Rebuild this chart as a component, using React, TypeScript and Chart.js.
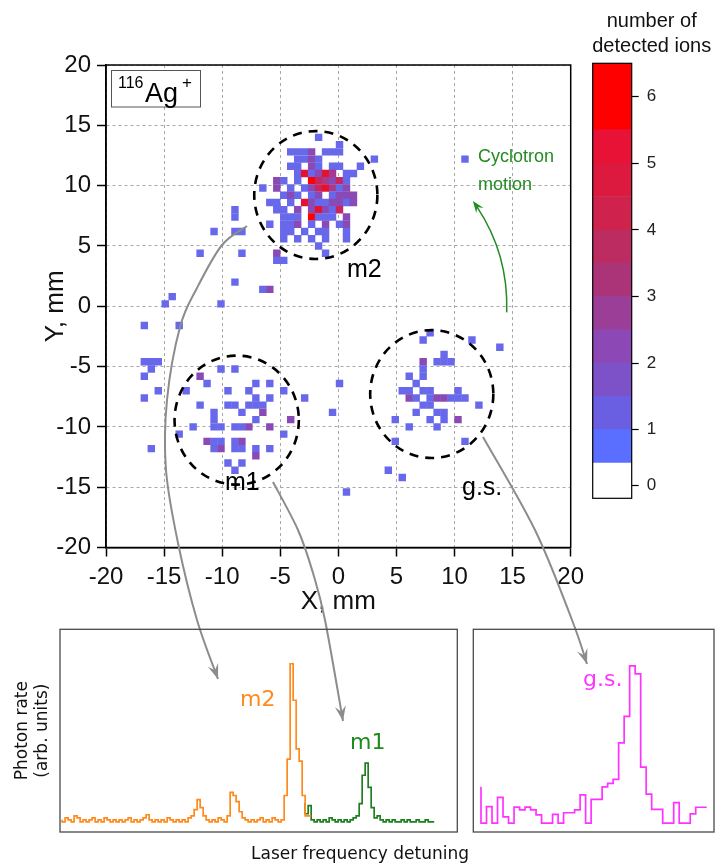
import React, { useEffect, useRef } from 'react';
import { Chart, registerables } from 'chart.js';

Chart.register(...registerables);

const SANS = '"Liberation Sans", Arial, Helvetica, sans-serif';
const VSANS = '"DejaVu Sans", Verdana, sans-serif';

type Cell = [number, number, number];

// ---- heat-map cells: [X mm, Y mm, number of detected ions] ----
const m2Cells: Cell[] = [
  [-1.7, 14.0, 1],
  [0.1, 13.4, 1],
  [-4.1, 12.8, 1], [-3.5, 12.8, 1], [-2.9, 12.8, 1], [-2.3, 12.8, 2], [-1.1, 12.8, 1], [-0.5, 12.8, 1], [0.1, 12.8, 1],
  [-3.5, 12.2, 1], [-2.9, 12.2, 1], [-2.3, 12.2, 2], [-1.7, 12.2, 1], [3.1, 12.2, 1],
  [-4.1, 11.6, 1], [-3.5, 11.6, 1], [-2.3, 11.6, 2], [-1.7, 11.6, 1], [-0.5, 11.6, 1], [0.1, 11.6, 1], [1.9, 11.6, 1],
  [-3.5, 11.0, 1], [-2.9, 11.0, 5], [-2.3, 11.0, 1], [-1.7, 11.0, 2], [-1.1, 11.0, 5], [-0.5, 11.0, 3], [0.7, 11.0, 1], [1.3, 11.0, 1],
  [-5.3, 10.4, 2], [-4.7, 10.4, 1], [-3.5, 10.4, 1], [-2.3, 10.4, 6], [-1.7, 10.4, 4], [-1.1, 10.4, 3], [-0.5, 10.4, 2], [0.1, 10.4, 4], [0.7, 10.4, 1],
  [-6.5, 9.8, 1], [-5.3, 9.8, 2], [-4.1, 9.8, 1], [-2.9, 9.8, 1], [-2.3, 9.8, 2], [-1.7, 9.8, 4], [-1.1, 9.8, 5], [-0.5, 9.8, 3], [0.1, 9.8, 1], [0.7, 9.8, 2],
  [-4.7, 9.2, 1], [-4.1, 9.2, 2], [-3.5, 9.2, 1], [-2.3, 9.2, 1], [-1.7, 9.2, 2], [-0.5, 9.2, 1], [0.1, 9.2, 2], [0.7, 9.2, 2], [1.3, 9.2, 2],
  [-5.9, 8.6, 1], [-5.3, 8.6, 1], [-4.1, 8.6, 1], [-2.9, 8.6, 5], [-2.3, 8.6, 2], [-1.7, 8.6, 1], [-1.1, 8.6, 1], [-0.5, 8.6, 2], [0.1, 8.6, 2], [0.7, 8.6, 1], [1.3, 8.6, 2],
  [-5.3, 8.0, 1], [-4.7, 8.0, 1], [-3.5, 8.0, 2], [-2.3, 8.0, 2], [-1.7, 8.0, 5], [-1.1, 8.0, 2], [-0.5, 8.0, 1], [0.1, 8.0, 4],
  [-4.7, 7.4, 1], [-4.1, 7.4, 1], [-3.5, 7.4, 1], [-2.3, 7.4, 6], [-1.7, 7.4, 1], [-1.1, 7.4, 1], [-0.5, 7.4, 1], [0.7, 7.4, 2],
  [-5.9, 6.8, 1], [-4.7, 6.8, 1], [-4.1, 6.8, 1], [-3.5, 6.8, 2], [-2.3, 6.8, 1], [-1.1, 6.8, 2], [0.1, 6.8, 1], [0.7, 6.8, 2],
  [-4.7, 6.2, 1], [-4.1, 6.2, 1], [-2.9, 6.2, 1], [-1.7, 6.2, 1], [-1.1, 6.2, 1], [0.7, 6.2, 1],
  [-4.7, 5.6, 1], [-3.5, 5.6, 1], [-2.3, 5.6, 1], [-1.1, 5.6, 1], [0.7, 5.6, 1],
  [-1.7, 5.0, 1],
  [-1.1, 4.4, 1], [-5.3, 4.4, 2],
  [-5.3, 3.8, 1], [-4.7, 3.8, 1],
];

const m1Cells: Cell[] = [
  [-11.9, -5.8, 2], [-11.9, -8.2, 1], [-11.3, -6.4, 1], [-11.3, -11.2, 2], [-10.7, -11.2, 1], [-10.7, -11.8, 1],
  [-10.1, -11.8, 2], [-10.1, -11.2, 1], [-10.7, -8.8, 1], [-10.7, -9.4, 1], [-10.7, -10.0, 1], [-10.1, -10.0, 1],
  [-10.1, -5.2, 1], [-8.9, -5.2, 1], [-9.5, -7.0, 1], [-9.5, -8.2, 1], [-8.9, -8.2, 1], [-8.3, -8.8, 1],
  [-8.9, -10.0, 1], [-8.3, -10.0, 1], [-7.7, -10.0, 2], [-8.9, -11.2, 1], [-8.3, -11.2, 2], [-8.9, -11.8, 1],
  [-8.3, -11.8, 1], [-7.7, -7.0, 1], [-7.7, -8.2, 1], [-7.1, -8.2, 1], [-6.5, -8.2, 1], [-7.1, -7.6, 1],
  [-7.1, -6.4, 1], [-7.1, -9.4, 1], [-7.1, -11.8, 1], [-7.1, -12.4, 2], [-6.5, -8.8, 2], [-5.9, -6.4, 1],
  [-5.9, -7.6, 1], [-5.9, -10.0, 2], [-5.9, -11.8, 1], [-4.7, -7.0, 1], [-4.7, -10.6, 1], [-4.1, -9.4, 2],
  [-9.5, -13.0, 1], [-8.3, -13.0, 1], [-8.9, -13.6, 1], [-13.7, -10.6, 1], [-13.1, -7.0, 1], [-12.5, -10.0, 1],
];

const gsCells: Cell[] = [
  [7.9, -2.2, 1], [7.3, -2.8, 1], [11.5, -2.8, 1], [13.9, -3.4, 1],
  [9.1, -4.0, 1], [8.5, -4.6, 1], [9.1, -4.6, 1], [9.7, -4.6, 1], [7.3, -4.6, 2],
  [7.3, -5.2, 1], [7.3, -5.8, 1], [6.1, -5.8, 1], [6.7, -6.4, 1],
  [5.5, -7.0, 1], [6.1, -7.0, 1], [7.3, -7.0, 1], [7.9, -7.0, 1], [10.3, -7.0, 1],
  [6.1, -7.6, 2], [6.7, -7.6, 1], [7.9, -7.6, 1], [8.5, -7.6, 2], [9.1, -7.6, 2], [9.7, -7.6, 1], [10.3, -7.6, 1], [10.9, -7.6, 1],
  [7.3, -8.2, 1], [7.9, -8.2, 1], [12.1, -8.2, 1],
  [6.7, -8.8, 1], [8.5, -8.8, 1], [9.1, -8.8, 1],
  [4.9, -9.4, 1], [7.9, -9.4, 1], [9.1, -9.4, 1], [10.3, -9.4, 2],
  [6.1, -10.0, 1], [8.5, -10.0, 1],
  [4.9, -11.2, 1], [10.9, -11.2, 1],
  [4.3, -13.6, 1], [5.5, -14.2, 1],
];

const strayCells: Cell[] = [
  [-8.9, 8.0, 1], [-8.9, 7.4, 1], [-10.7, 6.2, 1], [-8.9, 6.2, 1], [-8.3, 6.2, 1], [-11.9, 4.4, 1], [-8.3, 4.4, 1],
  [-8.9, 2.0, 1], [-6.5, 1.4, 1], [-5.9, 1.4, 2], [-14.3, 0.8, 1], [-14.9, 0.2, 1], [-10.1, 0.2, 1],
  [-16.7, -1.6, 1], [-13.7, -1.6, 1], [-16.7, -4.6, 1], [-16.1, -4.6, 1], [-15.5, -4.6, 1], [-16.1, -5.2, 1],
  [-16.7, -5.8, 1], [-15.5, -7.0, 1], [-16.7, -7.6, 1], [-16.1, -11.8, 1], [10.9, 12.2, 1], [0.7, -15.4, 1],
  [-2.9, -7.6, 1], [-0.5, -8.8, 1], [0.1, -6.4, 1],
];

// colour of a cell by its count (index = count)
const countColors = ['#ffffff', '#6868ea', '#8a4ab6', '#a83a8e', '#c8265e', '#e41230', '#ff0000'];

// colour bar bands
const cbBandLow = [-0.03, 0.5, 1, 1.5, 2, 2.5, 3, 3.5, 4, 4.5, 5, 5.5];
const cbBandHigh = [0.5, 1, 1.5, 2, 2.5, 3, 3.5, 4, 4.5, 5, 5.5, 6.5];
const cbBandColors = ['#ffffff', '#5a6eff', '#6a5fe2', '#7d52c8', '#8c48b4', '#9b3e98', '#ab3478', '#bd2c60', '#cf224c', '#dc1a40', '#e81236', '#ff0000'];
const cbTickValues = [0.16, 1, 2, 3, 4, 5, 6];
const cbTickLabels = ['0', '1', '2', '3', '4', '5', '6'];

const axisTicks = [-20, -15, -10, -5, 0, 5, 10, 15, 20];

// ---- lower panels: photon rate per frequency bin (arb. units) ----
const orangeTrace = [
  6, 5, 7, 6, 5, 8, 7, 5, 6, 5, 6, 7, 5, 6, 5, 7, 6,
  5, 6, 5, 6, 5, 6, 7, 5, 6, 5, 6, 7, 8.5, 6,
  5, 6, 5, 6, 5, 7, 6, 5, 6, 5, 6, 5, 7,
  8, 11, 16, 12, 8, 6,
  5, 6, 5, 7, 6, 5, 8,
  19.5, 18, 15, 10, 7, 6,
  5, 6, 5, 6, 7, 5, 6, 5, 7, 6, 5,
  6, 18, 36, 83, 65, 41, 35, 18, 8,
];
const greenStartBin = 81;
const greenTrace = [
  14.3, 9, 13, 6,
  5, 6, 5, 6, 5, 7, 6, 5, 6, 5, 6, 5,
  6, 7, 8,
  14, 28, 34, 22, 12, 7, 8,
  6, 5, 6, 5, 6, 5, 5, 6, 5, 6, 5, 5, 6, 5, 5, 6, 5,
];
const magentaSpike = 22.3;
const magentaTrace = [
  9.2, 4.4, 12.5, 4.4, 17.1, 7.5, 4.4, 12.3, 10.9, 12.3, 10.9, 8.4, 4.4, 4.4, 8.7, 4.4,
  9.5, 9.5, 10.9, 18.3, 4.4, 16.1, 16.1, 22.3, 24, 26, 44, 57, 82, 78, 32, 18.7,
  11.2, 11.2, 4.4, 4.4, 14.5, 4.4, 4.4, 8.9, 12.2,
];

// ---- annotation geometry (mm in the detector plane) ----
const circles: [number, number, number][] = [
  [-1.94, 9.22, 5.3],
  [-8.75, -9.44, 5.35],
  [8.04, -7.28, 5.3],
];

type Pt = [number, number];
// gray arrows in page pixels
const grayArrows: Pt[][] = [
  [[247, 226], [222, 245], [197, 288], [180, 327], [167, 400], [166, 470], [178, 543], [197, 620], [218, 679]],
  [[273, 482], [298, 530], [313, 573], [325, 620], [343, 721]],
  [[483, 437], [535, 530], [572, 620], [587, 664]],
];

function arrowHead(ctx: CanvasRenderingContext2D, tx: number, ty: number, dx: number, dy: number, len: number, half: number, color: string) {
  const L = Math.hypot(dx, dy);
  const ux = dx / L, uy = dy / L;
  const nx = -uy, ny = ux;
  const bx = tx - ux * len, by = ty - uy * len;
  ctx.beginPath();
  ctx.moveTo(tx, ty);
  ctx.lineTo(bx + nx * half, by + ny * half);
  ctx.lineTo(tx - ux * len * 0.62, ty - uy * len * 0.62);
  ctx.lineTo(bx - nx * half, by - ny * half);
  ctx.closePath();
  ctx.fillStyle = color;
  ctx.fill();
}

function spline(ctx: CanvasRenderingContext2D, pts: Pt[]) {
  ctx.beginPath();
  ctx.moveTo(pts[0][0], pts[0][1]);
  for (let i = 0; i < pts.length - 1; i++) {
    const p0 = pts[Math.max(i - 1, 0)], p1 = pts[i], p2 = pts[i + 1], p3 = pts[Math.min(i + 2, pts.length - 1)];
    ctx.bezierCurveTo(
      p1[0] + (p2[0] - p0[0]) / 6, p1[1] + (p2[1] - p0[1]) / 6,
      p2[0] - (p3[0] - p1[0]) / 6, p2[1] - (p3[1] - p1[1]) / 6,
      p2[0], p2[1]);
  }
  ctx.stroke();
}

const mainDecor = {
  id: 'mainDecor',
  afterDraw(chart: any) {
    const { ctx, chartArea: a } = chart;
    const xs = chart.scales.x, ys = chart.scales.y;
    const px = (v: number) => xs.getPixelForValue(v);
    const py = (v: number) => ys.getPixelForValue(v);
    ctx.save();
    ctx.setLineDash([]);
    ctx.strokeStyle = '#000';
    ctx.lineWidth = 1.5;
    ctx.strokeRect(a.left, a.top, a.right - a.left, a.bottom - a.top);

    // isotope label
    ctx.fillStyle = '#fff';
    ctx.fillRect(111, 70, 89, 36.5);
    ctx.strokeStyle = '#555';
    ctx.lineWidth = 1;
    ctx.strokeRect(111.5, 70.5, 89, 36.5);
    ctx.fillStyle = '#000';
    ctx.textBaseline = 'alphabetic';
    ctx.textAlign = 'left';
    ctx.font = `16px ${SANS}`;
    ctx.fillText('116', 118, 88);
    ctx.font = `27px ${SANS}`;
    ctx.fillText('Ag', 145, 101.5);
    ctx.font = `17px ${SANS}`;
    ctx.fillText('+', 182, 88);

    // dashed circles
    ctx.strokeStyle = '#000';
    ctx.lineWidth = 2.6;
    ctx.setLineDash([9, 7]);
    for (const [cx, cy, r] of circles) {
      ctx.beginPath();
      ctx.ellipse(px(cx), py(cy), Math.abs(px(cx + r) - px(cx)), Math.abs(py(cy + r) - py(cy)), 0, 0, Math.PI * 2);
      ctx.stroke();
    }
    ctx.setLineDash([]);

    // cluster labels
    ctx.fillStyle = '#000';
    ctx.font = `25px ${SANS}`;
    ctx.textBaseline = 'middle';
    ctx.fillText('m2', 347, 270);
    ctx.fillText('m1', 225, 483);
    ctx.fillText('g.s.', 462, 488);

    // cyclotron motion
    const green = '#228b22';
    ctx.fillStyle = green;
    ctx.font = `18px ${SANS}`;
    ctx.fillText('Cyclotron', 478, 157);
    ctx.fillText('motion', 478, 185);
    const cx0 = px(0), cy0 = py(0);
    const rr = 14.5;
    const rx = px(rr) - cx0, ry = cy0 - py(rr);
    const t1 = (-2 * Math.PI) / 180, t2 = (37 * Math.PI) / 180;
    ctx.strokeStyle = green;
    ctx.lineWidth = 1.5;
    ctx.beginPath();
    ctx.ellipse(cx0, cy0, rx, ry, 0, -t1, -t2 + 0.04, true);
    ctx.stroke();
    arrowHead(ctx, cx0 + rx * Math.cos(t2), cy0 - ry * Math.sin(t2), -rx * Math.sin(t2), -ry * Math.cos(t2), 12, 4.5, green);

    // gray arrows
    const gray = '#8c8c8c';
    ctx.strokeStyle = gray;
    ctx.lineWidth = 2;
    for (const pts of grayArrows) {
      spline(ctx, pts);
      const e = pts[pts.length - 1], p = pts[pts.length - 2];
      arrowHead(ctx, e[0], e[1], e[0] - p[0], e[1] - p[1], 15, 5.5, gray);
    }

    // lower panel labels
    ctx.textBaseline = 'middle';
    ctx.font = `22px ${VSANS}`;
    ctx.fillStyle = '#ff8a1e';
    ctx.fillText('m2', 240, 700);
    ctx.fillStyle = '#1f8a1f';
    ctx.fillText('m1', 350, 743);
    ctx.fillStyle = '#ff33ff';
    ctx.fillText('g.s.', 583, 680);
    ctx.fillStyle = '#111';
    ctx.font = `17px ${VSANS}`;
    ctx.textAlign = 'center';
    ctx.fillText('Laser frequency detuning', 360, 855);
    ctx.restore();
  },
};

const boxPlugin = {
  id: 'box',
  afterDraw(chart: any) {
    const { ctx, chartArea: a } = chart;
    ctx.save();
    ctx.strokeStyle = '#4a4a4a';
    ctx.lineWidth = 1.3;
    ctx.strokeRect(a.left, a.top, a.right - a.left, a.bottom - a.top);
    ctx.restore();
  },
};

const cbDecor = {
  id: 'cbDecor',
  afterDraw(chart: any) {
    const { ctx, chartArea: a } = chart;
    ctx.save();
    ctx.strokeStyle = '#000';
    ctx.lineWidth = 1.2;
    ctx.strokeRect(a.left, a.top, a.right - a.left, a.bottom - a.top);
    ctx.fillStyle = '#111';
    ctx.font = `20px ${SANS}`;
    ctx.textAlign = 'center';
    ctx.textBaseline = 'middle';
    ctx.fillText('number of', 81.7, 21.7);
    ctx.fillText('detected ions', 81.7, 46.7);
    ctx.restore();
  },
};

function stepPoints(values: number[], start: number) {
  const pts = values.map((v, i) => ({ x: start + i, y: v }));
  pts.push({ x: start + values.length, y: values[values.length - 1] });
  return pts;
}

export default function App() {
  const mainRef = useRef<HTMLCanvasElement>(null);
  const cbRef = useRef<HTMLCanvasElement>(null);
  const p1Ref = useRef<HTMLCanvasElement>(null);
  const p2Ref = useRef<HTMLCanvasElement>(null);

  useEffect(() => {
    const allCells = [...m2Cells, ...m1Cells, ...gsCells, ...strayCells];
    const axisCommon = (title: string) => ({
      type: 'linear' as const,
      min: -20,
      max: 20,
      afterBuildTicks: (s: any) => { s.ticks = axisTicks.map((v) => ({ value: v })); },
      ticks: { font: { size: 24, family: SANS }, color: '#111', padding: 6, maxRotation: 0, autoSkip: false },
      grid: { color: '#a8a8a8', lineWidth: 1, tickColor: '#000', tickLength: 9, tickWidth: 1.5, drawTicks: true },
      border: { display: true, color: '#000', width: 1.5, dash: [3, 3] },
      title: { display: true, text: title, font: { size: 26, family: SANS }, color: '#111' },
    });
    const xAxis: any = axisCommon('X, mm');
    xAxis.position = 'bottom';
    xAxis.title.padding = { top: 0, bottom: 0 };
    xAxis.afterFit = (s: any) => { s.height = 70; };
    const yAxis: any = axisCommon('Y, mm');
    yAxis.position = 'left';
    yAxis.title.padding = { top: 40, bottom: 0 };
    yAxis.afterFit = (s: any) => { s.width = 106; };

    const main = new Chart(mainRef.current!, {
      type: 'scatter',
      data: {
        datasets: [{
          data: allCells.map((c) => ({ x: c[0], y: c[1] })),
          backgroundColor: allCells.map((c) => countColors[c[2]]),
          borderWidth: 0,
          pointStyle: 'rect',
          pointRadius: 5.25,
          pointHoverRadius: 5.25,
        }],
      },
      options: {
        responsive: false,
        animation: false,
        devicePixelRatio: 1,
        events: [],
        layout: { padding: { left: 0, top: 65, right: 151.3, bottom: 249.5 } },
        plugins: { legend: { display: false }, tooltip: { enabled: false } },
        scales: { x: xAxis, y: yAxis },
      },
      plugins: [mainDecor],
    } as any);

    const cb = new Chart(cbRef.current!, {
      type: 'bar',
      data: {
        labels: ['ions'],
        datasets: cbBandColors.map((col, i) => ({
          data: [[cbBandLow[i], cbBandHigh[i]]],
          backgroundColor: col,
          borderWidth: 0,
          grouped: false,
          barPercentage: 1,
          categoryPercentage: 1,
        })),
      },
      options: {
        responsive: false,
        animation: false,
        devicePixelRatio: 1,
        events: [],
        layout: { padding: { left: 22.7, top: 63.3, right: 0, bottom: 21.7 } },
        plugins: { legend: { display: false }, tooltip: { enabled: false } },
        scales: {
          x: { display: false },
          y: {
            position: 'right',
            min: -0.03,
            max: 6.5,
            afterBuildTicks: (s: any) => { s.ticks = cbTickValues.map((v) => ({ value: v })); },
            ticks: { callback: (_v: any, i: number) => cbTickLabels[i], font: { size: 17, family: SANS }, color: '#222', padding: 8 },
            grid: { drawOnChartArea: false, drawTicks: true, tickLength: 7, tickColor: '#000', tickWidth: 1.2 },
            border: { display: false },
            afterFit: (s: any) => { s.width = 90.3; },
          },
        },
      },
      plugins: [cbDecor],
    } as any);

    const lineDs = (values: number[], start: number, color: string) => ({
      data: stepPoints(values, start),
      borderColor: color,
      borderWidth: 1.7,
      stepped: 'after',
      pointRadius: 0,
      fill: false,
    });

    const p1 = new Chart(p1Ref.current!, {
      type: 'line',
      data: {
        datasets: [
          lineDs(orangeTrace, 0, '#ff8a1e'),
          lineDs(greenTrace, greenStartBin, '#1f7f1f'),
        ],
      },
      options: {
        responsive: false,
        animation: false,
        devicePixelRatio: 1,
        events: [],
        layout: { padding: { left: 0, top: 29.3, right: 12.7, bottom: 35 } },
        plugins: { legend: { display: false }, tooltip: { enabled: false } },
        scales: {
          x: { type: 'linear', min: -0.7, max: 131.7, display: false },
          y: {
            min: 0,
            max: 100,
            ticks: { display: false },
            grid: { display: false },
            border: { display: false },
            title: { display: true, text: ['Photon rate', '(arb. units)'], font: { size: 17, family: VSANS }, color: '#111', padding: { top: 12, bottom: 0 } },
            afterFit: (s: any) => { s.width = 60; },
          },
        },
      },
      plugins: [boxPlugin],
    } as any);

    const magentaPts = [{ x: 0, y: magentaSpike }, ...stepPoints(magentaTrace, 0)];
    const p2 = new Chart(p2Ref.current!, {
      type: 'line',
      data: {
        datasets: [{
          data: magentaPts,
          borderColor: '#ff33ff',
          borderWidth: 1.7,
          stepped: 'after',
          pointRadius: 0,
          fill: false,
        }],
      },
      options: {
        responsive: false,
        animation: false,
        devicePixelRatio: 1,
        events: [],
        layout: { padding: { left: 8.3, top: 29.3, right: 8, bottom: 35 } },
        plugins: { legend: { display: false }, tooltip: { enabled: false } },
        scales: {
          x: { type: 'linear', min: -1.4, max: 42.32, display: false },
          y: { min: 0, max: 100, display: false },
        },
      },
      plugins: [boxPlugin],
    } as any);

    return () => { main.destroy(); cb.destroy(); p1.destroy(); p2.destroy(); };
  }, []);

  return (
    <div style={{ position: 'absolute', left: 0, top: 0, width: 722, height: 867, background: '#fff', overflow: 'hidden' }}>
      <canvas ref={mainRef} width={722} height={867} style={{ position: 'absolute', left: 0, top: 0 }} />
      <canvas ref={cbRef} width={152} height={520} style={{ position: 'absolute', left: 570, top: 0 }} />
      <canvas ref={p1Ref} width={470} height={267} style={{ position: 'absolute', left: 0, top: 600 }} />
      <canvas ref={p2Ref} width={257} height={267} style={{ position: 'absolute', left: 465, top: 600 }} />
    </div>
  );
}
